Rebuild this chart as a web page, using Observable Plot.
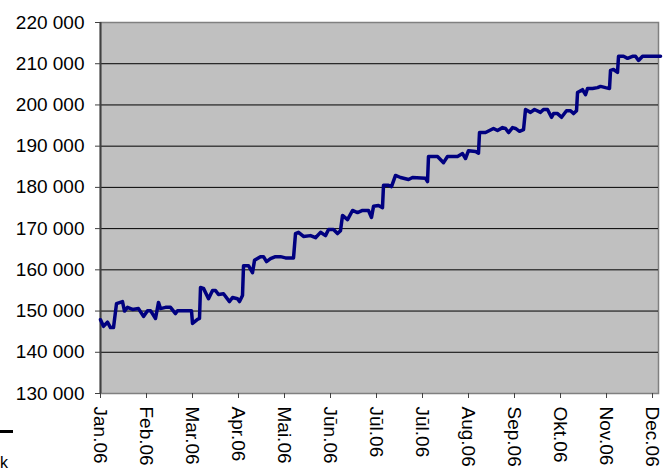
<!DOCTYPE html>
<html>
<head>
<meta charset="utf-8">
<script src="https://cdn.jsdelivr.net/npm/d3@7"></script>
<script src="https://cdn.jsdelivr.net/npm/@observablehq/plot@0.6"></script>
<style>
  html, body { margin: 0; padding: 0; background: #fff; }
  body { width: 671px; height: 472px; overflow: hidden; position: relative; font-family: Arial, "Liberation Sans", sans-serif; }
  #legend-dash { position: absolute; left: 0; top: 430px; width: 13px; height: 3px; background: #000; }
  #legend-text { position: absolute; left: 0; top: 455px; font-size: 16px; color: #000; line-height: 16px; }
</style>
</head>
<body>
<div id="chart"></div>
<div id="legend-dash"></div>
<div id="legend-text">k</div>
<script>
// Month labels (tick at each integer position)
const monthLabels = ["Jan.06","Feb.06","Mar.06","Apr.06","Mai.06","Jūn.06","Jūl.06","Jūl.06","Aug.06","Sep.06","Okt.06","Nov.06","Dec.06"];
const yTicks = [130000,140000,150000,160000,170000,180000,190000,200000,210000,220000];

// Position along the time axis, in month units from Jan.06
const positions = [0,0.065,0.152,0.217,0.283,0.348,0.478,0.522,0.587,0.696,0.826,0.935,1.022,1.087,1.196,1.261,1.304,1.413,1.522,1.630,1.674,1.978,2.000,2.109,2.152,2.174,2.239,2.348,2.435,2.500,2.565,2.674,2.804,2.870,2.978,3.022,3.087,3.109,3.217,3.304,3.348,3.478,3.543,3.609,3.696,3.804,3.913,4.022,4.196,4.239,4.304,4.413,4.565,4.674,4.783,4.891,4.957,5.065,5.152,5.217,5.261,5.370,5.478,5.587,5.696,5.826,5.891,5.935,6.043,6.130,6.152,6.261,6.326,6.413,6.522,6.696,6.783,7.065,7.109,7.130,7.326,7.457,7.543,7.761,7.870,7.935,8.000,8.152,8.217,8.239,8.370,8.543,8.630,8.739,8.804,8.870,8.957,9.022,9.109,9.196,9.239,9.348,9.435,9.565,9.630,9.717,9.804,9.848,9.935,10.022,10.130,10.217,10.283,10.348,10.370,10.478,10.543,10.587,10.696,10.804,10.870,10.978,11.065,11.087,11.152,11.239,11.261,11.370,11.457,11.565,11.630,11.696,11.783,12.174];
const values = [147900,146300,147300,146000,146000,151800,152300,150000,150900,150400,150600,148700,150100,150100,148200,152100,150600,150900,150900,149400,150100,150100,147000,148000,148200,155700,155500,153000,155000,155000,154000,154200,152300,153300,153000,152300,153800,161000,161000,159300,162300,163200,163200,162000,162700,163200,163200,162900,162900,168800,169100,168100,168300,167800,169100,168300,169800,169800,168800,169500,173200,172200,174400,173900,174400,174400,172700,175400,175600,175100,180500,180500,180200,182900,182400,181900,182400,182200,181400,187500,187500,186000,187500,187500,188200,187000,188900,188700,188300,193300,193300,194300,193800,194500,194300,193300,194500,194300,193600,194000,198900,198200,198900,198200,198900,198900,197000,197900,197900,197000,198600,198600,197900,198600,203000,203700,202500,204000,204000,204200,204500,204200,204000,208400,208600,207900,211800,211800,211300,211800,211800,210800,211800,211800];

const data = positions.map((p, i) => ({t: p, v: values[i]}));
const fmt = d => d3.format(",")(d).replace(/,/g, " ");

const chart = Plot.plot({
  width: 671,
  height: 472,
  marginLeft: 100,
  marginRight: 13,
  marginTop: 22,
  marginBottom: 79,
  style: {fontFamily: 'Arial, "Liberation Sans", sans-serif', fontSize: "19px", color: "#000", background: "#fff", overflow: "visible"},
  x: {domain: [0, 12.13], axis: null},
  y: {domain: [130000, 220000], axis: null},
  marks: [
    Plot.frame({fill: "#c0c0c0", stroke: "#808080", strokeWidth: 1.5}),
    Plot.gridY(yTicks.slice(1, -1), {stroke: "#000", strokeOpacity: 1, strokeWidth: 1}),
    Plot.ruleX([0], {stroke: "#404040", strokeWidth: 2}),
    Plot.axisY(yTicks, {tickSize: 5, tickPadding: 11, tickFormat: fmt, fontSize: 19, label: null, stroke: "#404040"}),
    Plot.axisX(d3.range(monthLabels.length), {tickSize: 5, tickPadding: 8, tickRotate: 90, tickFormat: i => monthLabels[i], fontSize: 19, label: null, stroke: "#404040"}),
    Plot.line(data, {x: "t", y: "v", stroke: "#000080", strokeWidth: 3.5, strokeLinejoin: "round", clip: false})
  ]
});
document.getElementById("chart").appendChild(chart);
</script>
</body>
</html>
